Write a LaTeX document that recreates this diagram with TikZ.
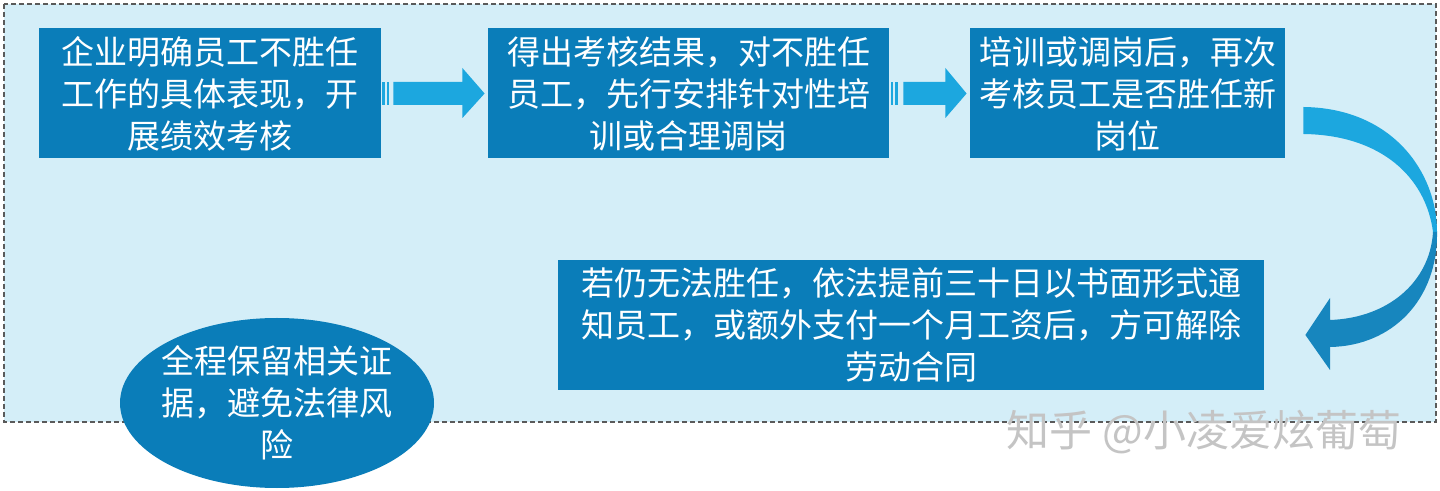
\documentclass[tikz,border=0pt]{standalone}
\usepackage{fontspec}
\setmainfont{Noto Sans CJK SC}
\newfontfamily\cjk{Noto Sans CJK SC}
\usetikzlibrary{calc,shapes.geometric}
\definecolor{bgblue}{HTML}{D4EEF8}
\definecolor{boxblue}{HTML}{0A7DB9}
\definecolor{arrblue}{HTML}{1CA7DF}
\definecolor{arrdark}{HTML}{1786BE}
\definecolor{frame}{HTML}{5A5A5A}
\definecolor{wm}{HTML}{C4C4C4}
\begin{document}
\begin{tikzpicture}[x=0.5pt,y=-0.5pt,
  stepbox/.style={rectangle,fill=boxblue,text=white,inner sep=0pt,align=center,
    minimum height=65pt,font=\cjk\fontsize{16.5pt}{21pt}\selectfont},
  ovalbox/.style={ellipse,fill=boxblue,text=white,inner xsep=-2.5pt,inner ysep=0pt,align=center,
    minimum width=157pt,minimum height=85pt,font=\cjk\fontsize{16.5pt}{21pt}\selectfont},
  flatarrow/.style={fill=arrblue,draw=none},
  bendtop/.style={fill=arrblue,draw=none},
  bendlow/.style={fill=arrdark,draw=none}]
\useasboundingbox (0,0) rectangle (1440,491);
\fill[white] (0,0) rectangle (1440,491);
\draw[fill=bgblue,draw=frame,line width=0.6pt,dash pattern=on 2.5pt off 1.5pt] (4,4) rectangle (1436,422);

\node[stepbox,minimum width=171pt] (b1) at (210,93.5) {企业明确员工不胜任\\工作的具体表现，开\\展绩效考核};
\node[stepbox,minimum width=200.5pt] (b2) at (688.5,93.5) {得出考核结果，对不胜任\\员工，先行安排针对性培\\训或合理调岗};
\node[stepbox,minimum width=157.5pt] (b3) at (1127.5,93.5) {培训或调岗后，再次\\考核员工是否胜任新\\岗位};
\node[stepbox,minimum width=353pt] (b4) at (911,325) {若仍无法胜任，依法提前三十日以书面形式通\\知员工，或额外支付一个月工资后，方可解除\\劳动合同};
\node[ovalbox] (e1) at (277,403) {全程保留相关证\\据，避免法律风\\险};

% arrow b1 -> b2
\fill[flatarrow] ($(b1.east)+(1,-11.5)$) rectangle ($(b1.east)+(4,11.5)$);
\fill[flatarrow] ($(b1.east)+(6,-11.5)$) rectangle ($(b1.east)+(8,11.5)$);
\fill[flatarrow] ($(b1.east)+(12,-11.5)$) -- ($(b1.east)+(81,-11.5)$) -- ($(b1.east)+(81,-25.5)$)
  -- ($(b2.west)+(-3,0)$) -- ($(b1.east)+(81,24.5)$) -- ($(b1.east)+(81,11.5)$) -- ($(b1.east)+(12,11.5)$) -- cycle;

% arrow b2 -> b3
\fill[flatarrow] ($(b2.east)+(2,-11.5)$) rectangle ($(b2.east)+(4,11.5)$);
\fill[flatarrow] ($(b2.east)+(6,-11.5)$) rectangle ($(b2.east)+(9,11.5)$);
\fill[flatarrow] ($(b2.east)+(14,-11.5)$) -- ($(b2.east)+(56,-11.5)$) -- ($(b2.east)+(56,-25.5)$)
  -- ($(b3.west)+(-3,0)$) -- ($(b2.east)+(56,24.5)$) -- ($(b2.east)+(56,11.5)$) -- ($(b2.east)+(14,11.5)$) -- cycle;

% curved arrow b3 -> b4
\coordinate (cs1) at ($(b3.east)+(18,13.5)$);
\coordinate (cs2) at ($(b3.east)+(18,40.5)$);
\coordinate (mo) at (1437,232);
\coordinate (mi) at (1433,232);
\coordinate (tip) at ($(b4.east)+(41,10)$);
\fill[bendtop] (cs1) .. controls (1392,108) and (1437,172) .. (mo)
  -- (mi) .. controls (1426,178) and (1382,135) .. (cs2) -- cycle;
\fill[bendlow] (mi) -- (mo) .. controls (1438,300) and (1392,346) .. (1330,347)
  -- (1330,370) -- (tip) -- (1330,298) -- (1330,320)
  .. controls (1388,318) and (1430,282) .. (mi) -- cycle;

% watermark
\node[text=wm,font=\cjk\fontsize{21.5pt}{24pt}\selectfont,inner sep=0pt] (wmark) at (1204,432) {知乎 @小凌爱炫葡萄};
\end{tikzpicture}
\end{document}
